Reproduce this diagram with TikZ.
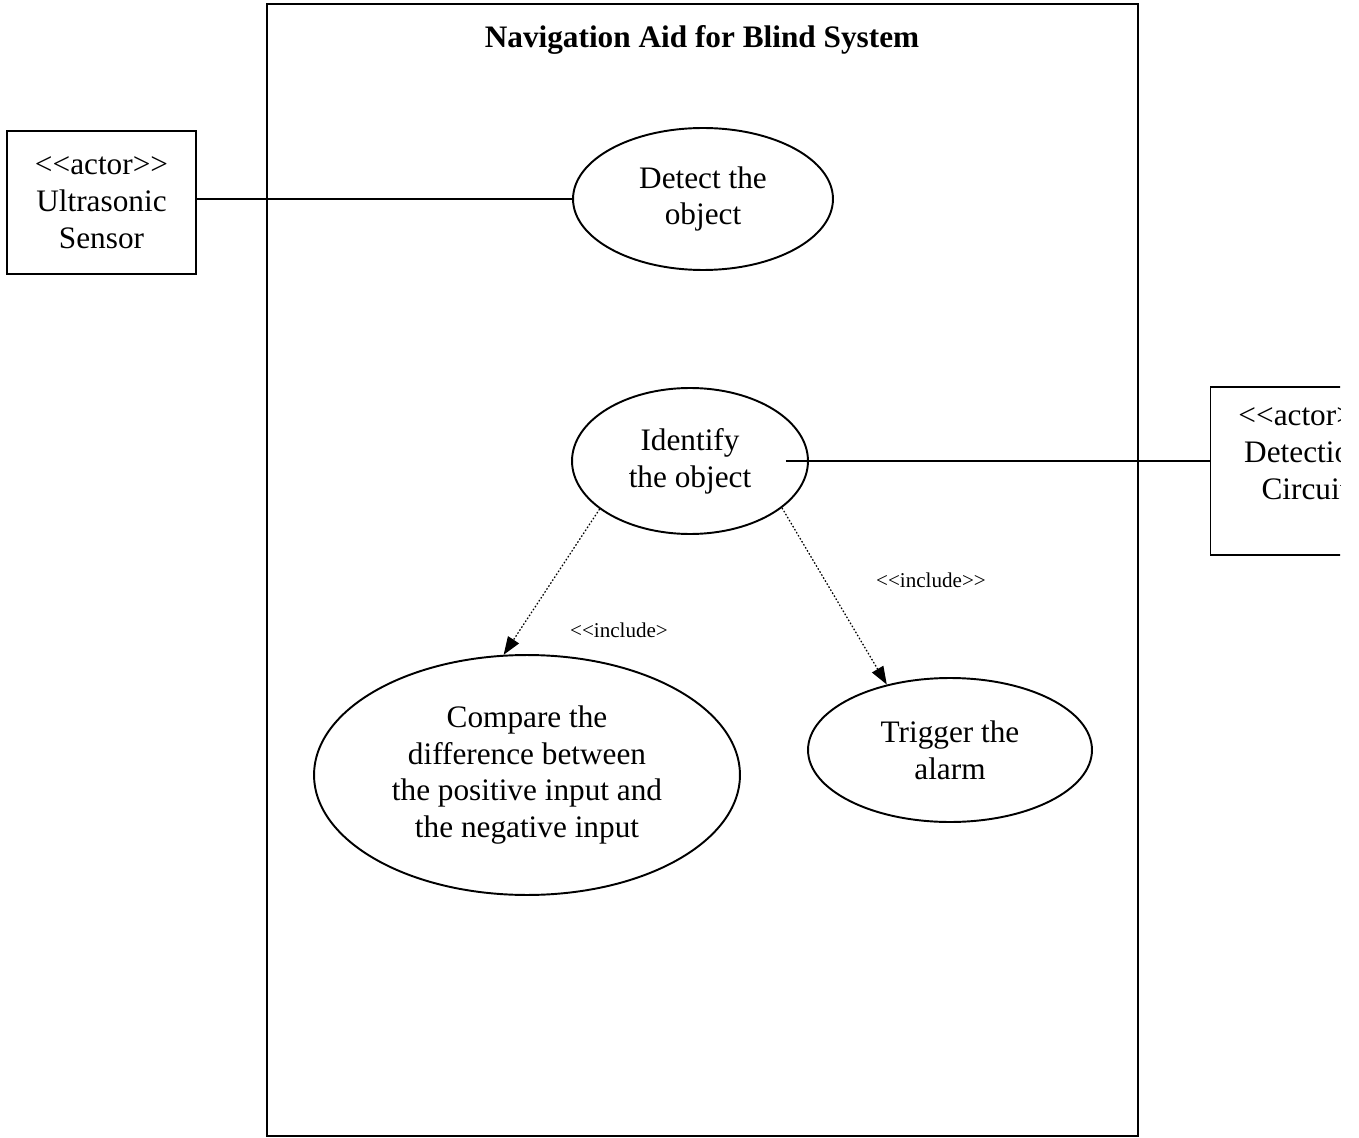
\documentclass[tikz,border=0pt]{standalone}
\usepackage{fontspec}
\setmainfont{Liberation Serif}
\usetikzlibrary{shapes.geometric,arrows.meta}
\newcommand{\lsa}{\textless\kern0pt\textless}
\newcommand{\rsa}{\textgreater\kern0pt\textgreater}

\begin{document}
\begin{tikzpicture}[x=0.02cm,y=-0.02cm,
    font=\fontsize{17.8}{21}\selectfont,
    usecase/.style={ellipse,draw,line width=1.1pt,align=center,inner sep=0pt},
    actorbox/.style={draw,line width=1pt,minimum width=3.78cm},
    incl/.style={-{Triangle[length=0.36cm,width=0.26cm]},line width=0.7pt,dash pattern=on 0.9pt off 1.1pt},
    incltxt/.style={font=\fontsize{12}{14}\selectfont}]
    \useasboundingbox (0,0) rectangle (1359,1138);

    % system boundary
    \draw [line width=1pt] (267,4) rectangle (1138,1136);
    \node[font=\bfseries\fontsize{17.8}{21}\selectfont] (title) at (702,40) {Navigation Aid for Blind System};

    % use cases
    \node[usecase,minimum width=5.2cm,minimum height=2.84cm] (detect) at (703,199) {Detect the\\object};
    \node[usecase,minimum width=4.72cm,minimum height=2.92cm] (ident) at (690,461) {Identify\\the object};
    \node[usecase,minimum width=8.52cm,minimum height=4.8cm] (cmp) at (527,775) {Compare the\\difference between\\the positive input and\\the negative input};
    \node[usecase,minimum width=5.68cm,minimum height=2.88cm] (trig) at (950,750) {Trigger the\\alarm};

    % actors
    \node[actorbox,minimum height=2.86cm,align=center] (usens) at (101.5,202.5) {\lsa actor\rsa\\Ultrasonic\\Sensor};
    \begin{scope}
      \clip (0,0) rectangle (1340,1138);
      \node[actorbox,minimum height=3.36cm] (dcirc) at (1305,471) {};
      \node[align=center] (dcirctxt) at (1305,454) {\lsa actor\rsa\\Detection\\Circuit};
    \end{scope}

    % associations
    \draw [line width=1pt] (detect.west -| usens.east) -- (detect.west);
    \draw [line width=1pt] ([xshift=-0.46cm]ident.east) -- (ident.east -| dcirc.west);

    % include relations
    \draw [incl] (ident.208) -- (cmp.101);
    \draw [incl] (ident.333) -- (trig.134);
    \node[incltxt] (inclA) at (619,630) {\lsa include\textgreater};
    \node[incltxt] (inclB) at (931,580) {\lsa include\rsa};
\end{tikzpicture}
\end{document}
